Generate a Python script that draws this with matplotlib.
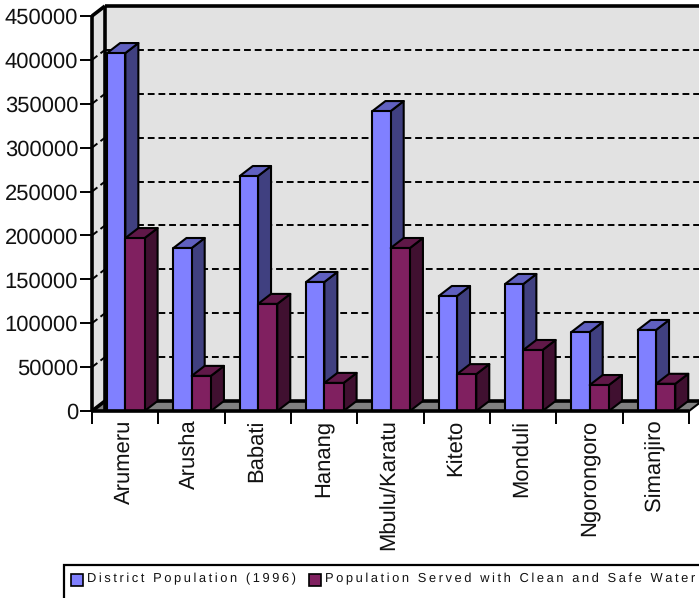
import matplotlib
matplotlib.use("Agg")
import matplotlib.pyplot as plt
from matplotlib.patches import Polygon, Rectangle

plt.rcParams['font.family'] = ['Liberation Sans', 'DejaVu Sans']
plt.rcParams['text.hinting'] = 'no_hinting'

districts = ['Arumeru', 'Arusha', 'Babati', 'Hanang', 'Mbulu/Karatu', 'Kiteto', 'Monduli', 'Ngorongoro', 'Simanjiro']
population = [407800, 185700, 267700, 147000, 341700, 131000, 144700, 90000, 92300]
served = [197000, 40000, 122000, 32000, 185700, 42000, 69500, 29600, 31000]
yticks = list(range(0, 450001, 50000))
series_names = ['District Population (1996)', 'Population Served with Clean and Safe Water']

W, H = 699, 598
fig = plt.figure(figsize=(W/100, H/100), dpi=100)
ax = fig.add_axes([92/W, (H-411)/H, 597/W, 395/H])
ax.set_xlim(0, 9)
ax.set_ylim(0, 450000)

# depth of the fake 3d box, in data units
dx = 13/(597/9)
dy = 10/(395/450000)
top = 450000


def poly(pts, color, lw=1.5, z=2, ec='black'):
    ax.add_patch(Polygon(pts, closed=True, fc=color, ec=ec, lw=lw, zorder=z, clip_on=False, joinstyle='round'))


def line(xs, ys, lw=1.5, ls='-', z=1.5):
    ax.plot(xs, ys, color='black', lw=lw, ls=ls, zorder=z, clip_on=False, solid_capstyle='butt')


def bar3d(x, w, h, front, side, lid, z):
    poly([(x+w, 0), (x+w+dx, dy), (x+w+dx, h+dy), (x+w, h)], side, z=z)
    poly([(x, h), (x+dx, h+dy), (x+w+dx, h+dy), (x+w, h)], lid, z=z)
    poly([(x, 0), (x+w, 0), (x+w, h), (x, h)], front, z=z)


# walls and floor
poly([(dx, dy), (10, dy), (10, top+dy), (dx, top+dy)], '#e2e2e2', lw=0, z=0)
poly([(0, 0), (dx, dy), (dx, top+dy), (0, top)], '#e2e2e2', lw=0, z=0)
poly([(0, 0), (9, 0), (9+dx, dy), (dx, dy)], '#808080', lw=0, z=0.5)

# gridlines
for v in yticks[1:-1]:
    line([0, dx], [v, v+dy], lw=1.4, ls=(0, (3.5, 2)))
    line([dx, 9+dx], [v+dy, v+dy], lw=1.4, ls=(0, (3.5, 2)))

# frame
line([0, 0], [0, top], lw=2.6, z=3)
line([dx, dx], [0, top+dy], lw=2.6, z=1.6)
line([0, dx], [top, top+dy], lw=2.6, z=1.6)
line([dx, 10], [top+dy, top+dy], lw=2.6, z=1.6)
line([dx, 10], [dy, dy], lw=2.6, z=1.6)
line([0, dx], [0, dy], lw=2.6, z=1.6)
line([0, 9], [0, 0], lw=2.6, z=30)
line([9, 9+dx], [0, dy], lw=1.5, z=1.6)

for i in range(9):
    z = 3+i*2
    bar3d(i+0.228, 0.275, population[i], '#8080ff', '#404080', '#6060c0', z)
    bar3d(i+0.503, 0.29, served[i], '#802060', '#401030', '#601848', z+1)

# ticks and labels
for s in ax.spines.values():
    s.set_visible(False)
ax.patch.set_visible(False)
ax.set_yticks(yticks)
ax.set_yticklabels([str(v) for v in yticks], fontsize=15.8, color='#111111')
ax.tick_params(axis='y', length=9, width=1.4, pad=1)
ax.tick_params(axis='x', length=9, width=1.4)
ax.set_xticks(list(range(0, 10)))
ax.set_xticklabels([''] * 10)
for i, d in enumerate(districts):
    ax.text(i+0.485, -8.5/(395/450000), d, rotation=90, ha='center', va='top', fontsize=15.8, color='#111111', clip_on=False)

# legend box runs off the bottom of the canvas
fig.add_artist(Rectangle((64/W, -5/H), 640/W, (H-565+5)/H, transform=fig.transFigure, fc='white', ec='black', lw=1.6))
fig.add_artist(Rectangle((71/W, (H-586)/H), 12/W, 12/H, transform=fig.transFigure, fc='#8080ff', ec='black', lw=1.2))
fig.add_artist(Rectangle((309/W, (H-586)/H), 12/W, 12/H, transform=fig.transFigure, fc='#802060', ec='black', lw=1.2))
spaced = ['\u2009'.join(s) for s in series_names]
fig.text(87/W, (H-582)/H, spaced[0], fontsize=9.25, color='#111111')
fig.text(325/W, (H-582)/H, spaced[1], fontsize=9.25, color='#111111')

fig.savefig('out.png', dpi=100)
